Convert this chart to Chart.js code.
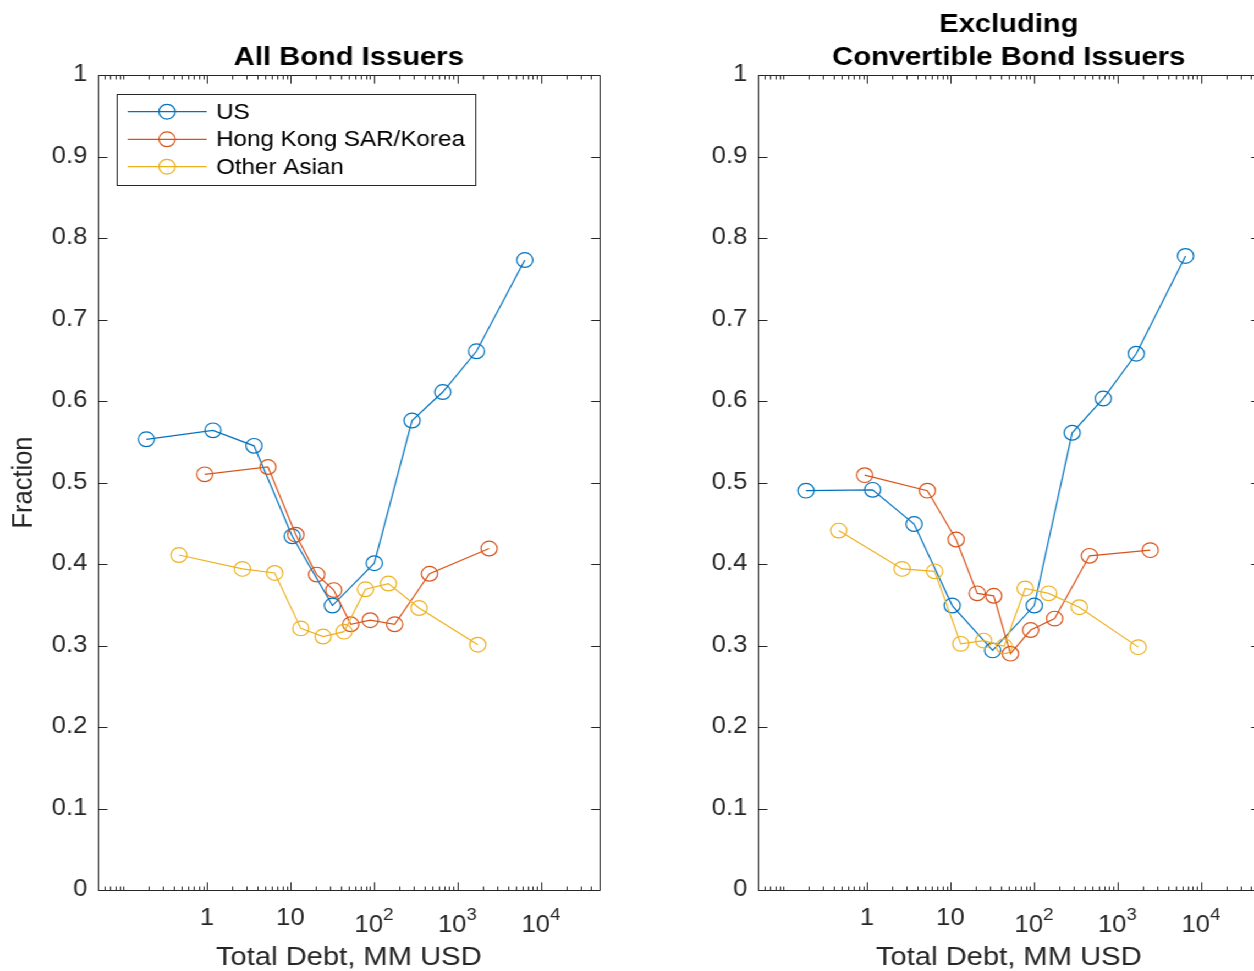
<!DOCTYPE html>
<html>
<head>
<meta charset="utf-8">
<title>Fraction by Total Debt</title>
<script src="https://cdn.jsdelivr.net/npm/chart.js@4.4.1/dist/chart.umd.min.js"></script>
<style>
  html, body { margin: 0; padding: 0; background: #fff; overflow: hidden; width: 1254px; height: 971px; }
  /* figure is laid out at 1/1.1 width and widened on screen */
  #stage { position: absolute; left: 0; top: 0; width: 1200px; height: 971px; transform: scaleX(1.1); transform-origin: 0 0; }
  #stage canvas { position: absolute; top: 0; }
</style>
</head>
<body>
<div id="stage">
  <canvas id="allIssuers" width="600" height="971" style="left:0"></canvas>
  <canvas id="exConvertible" width="600" height="971" style="left:600px"></canvas>
</div>
<script>
// ---- series: all bond issuers ----
const allUsX = [0.188, 1.18, 3.66, 10.5, 31.8, 101, 286, 667, 1690, 6410];
const allUsY = [0.553, 0.564, 0.545, 0.434, 0.349, 0.401, 0.576, 0.611, 0.661, 0.773];
const allHkX = [0.94, 5.38, 11.6, 20.6, 33.0, 52.7, 90.3, 177, 463, 2395];
const allHkY = [0.510, 0.519, 0.436, 0.387, 0.368, 0.326, 0.331, 0.326, 0.388, 0.419];
const allOaX = [0.462, 2.66, 6.48, 13.3, 24.6, 43.8, 79.1, 149, 347, 1754];
const allOaY = [0.411, 0.394, 0.389, 0.321, 0.311, 0.317, 0.369, 0.376, 0.346, 0.301];

// ---- series: excluding convertible bond issuers ----
const exUsX = [0.186, 1.17, 3.67, 10.5, 32.0, 101, 287, 676, 1680, 6540];
const exUsY = [0.490, 0.491, 0.449, 0.349, 0.294, 0.349, 0.561, 0.603, 0.658, 0.778];
const exHkX = [0.939, 5.29, 11.7, 20.9, 33.0, 52.3, 91.4, 177, 462, 2470];
const exHkY = [0.509, 0.490, 0.430, 0.364, 0.361, 0.290, 0.319, 0.333, 0.410, 0.417];
const exOaX = [0.459, 2.64, 6.47, 13.3, 25.0, 44.0, 78.5, 150, 349, 1774];
const exOaY = [0.441, 0.394, 0.391, 0.302, 0.306, 0.299, 0.370, 0.364, 0.347, 0.298];

// ---- labels and ticks ----
const seriesNames = ['US', 'Hong Kong SAR/Korea', 'Other Asian'];
const seriesColors = ['#0072BD', '#D95319', '#EDB120'];
const leftTitle = ['All Bond Issuers'];
const rightTitle = ['Excluding', 'Convertible Bond Issuers'];
const xTitle = 'Total Debt, MM USD';
const yTitle = 'Fraction';
const xTickValues = [1, 10, 100, 1000, 10000];
const xTickBase = ['1', '10', '10', '10', '10'];
const xTickExp = ['', '', '2', '3', '4'];
const yTickLabels = ['0', '0.1', '0.2', '0.3', '0.4', '0.5', '0.6', '0.7', '0.8', '0.9', '1'];
const X_MIN = 0.05, X_MAX = 50000;

const FONT = "'Liberation Sans', Arial, Helvetica, sans-serif";
const INK = '#262626';
const MAJOR = 8.15, MINOR = 4;
const TICK_FONT = 23.3, EXP_FONT = 17;

Chart.defaults.font.family = FONT;
Chart.defaults.color = INK;

function series(i, xs, ys) {
  const c = seriesColors[i];
  return {
    label: seriesNames[i],
    data: xs.map((x, k) => ({ x: x, y: ys[k] })),
    borderColor: c,
    backgroundColor: 'rgba(0,0,0,0)',
    borderWidth: 1.2,
    pointStyle: 'circle',
    pointRadius: 7.35,
    pointHoverRadius: 7.35,
    pointBorderWidth: 1.2,
    pointBorderColor: c,
    pointBackgroundColor: 'rgba(0,0,0,0)',
    tension: 0,
    fill: false,
    order: 3 - i
  };
}

// box, inward tick marks, decade labels with exponents, title and legend
const framePlugin = {
  id: 'frame',
  afterDraw(chart, args, opts) {
    const { ctx, chartArea: a, scales } = chart;
    const xs = scales.x, ys = scales.y;
    const L = Math.round(a.left) + 0.5, R = Math.round(a.right) + 0.5;
    const T = Math.round(a.top) + 0.5, B = Math.round(a.bottom) + 0.5;
    ctx.save();
    ctx.strokeStyle = INK;
    ctx.lineWidth = 1;
    ctx.beginPath();
    ctx.rect(L, T, R - L, B - T);
    // y ticks on both sides
    ys.ticks.forEach(t => {
      const py = Math.round(ys.getPixelForValue(t.value)) + 0.5;
      ctx.moveTo(L, py); ctx.lineTo(L + MAJOR, py);
      ctx.moveTo(R, py); ctx.lineTo(R - MAJOR, py);
    });
    // x decade ticks
    xTickValues.forEach(v => {
      const px = Math.round(xs.getPixelForValue(v)) + 0.5;
      ctx.moveTo(px, B); ctx.lineTo(px, B - MAJOR);
      ctx.moveTo(px, T); ctx.lineTo(px, T + MAJOR);
    });
    // x minor ticks between decades
    for (let e = -2; e <= 4; e++) {
      for (let k = 1; k <= 9; k++) {
        const v = k * Math.pow(10, e);
        if (v <= X_MIN * 1.0001 || v >= X_MAX * 0.9999) continue;
        if (xTickValues.some(m => Math.abs(m - v) < 1e-9 * m)) continue;
        const px = Math.round(xs.getPixelForValue(v)) + 0.5;
        ctx.moveTo(px, B); ctx.lineTo(px, B - MINOR);
        ctx.moveTo(px, T); ctx.lineTo(px, T + MINOR);
      }
    }
    ctx.stroke();

    // x tick labels
    ctx.fillStyle = INK;
    ctx.textBaseline = 'alphabetic';
    xTickValues.forEach((v, i) => {
      const px = xs.getPixelForValue(v);
      if (!xTickExp[i]) {
        ctx.font = TICK_FONT + 'px ' + FONT;
        ctx.textAlign = 'center';
        ctx.fillText(xTickBase[i], px, 924.5);
      } else {
        ctx.font = TICK_FONT + 'px ' + FONT;
        const wb = ctx.measureText(xTickBase[i]).width;
        ctx.font = EXP_FONT + 'px ' + FONT;
        const we = ctx.measureText(xTickExp[i]).width;
        const x0 = px - (wb + we) / 2;
        ctx.textAlign = 'left';
        ctx.font = TICK_FONT + 'px ' + FONT;
        ctx.fillText(xTickBase[i], x0, 931.7);
        ctx.font = EXP_FONT + 'px ' + FONT;
        ctx.fillText(xTickExp[i], x0 + wb, 920);
      }
    });

    // title
    ctx.fillStyle = '#000';
    ctx.font = 'bold 26.5px ' + FONT;
    ctx.textAlign = 'center';
    const cx = (a.left + a.right) / 2;
    const lines = opts.title || [];
    lines.forEach((s, i) => {
      ctx.fillText(s, cx, 65 - (lines.length - 1 - i) * 33);
    });

    // legend
    if (opts.legend) {
      const bx = 106.3, by = 93.5, bw = 325.5, bh = 90.5;
      ctx.fillStyle = '#fff';
      ctx.fillRect(bx, by, bw, bh);
      ctx.strokeStyle = INK;
      ctx.lineWidth = 1;
      ctx.strokeRect(Math.round(bx) + 0.5, Math.round(by) + 0.5, Math.round(bw), Math.round(bh));
      const rows = [111.7, 139.3, 166.7];
      chart.data.datasets.forEach((ds, i) => {
        const ry = rows[i];
        ctx.strokeStyle = ds.borderColor;
        ctx.lineWidth = 1.2;
        ctx.beginPath();
        ctx.moveTo(116.1, ry); ctx.lineTo(187.9, ry);
        ctx.stroke();
        ctx.beginPath();
        ctx.arc(151.8, ry, 7.35, 0, Math.PI * 2);
        ctx.stroke();
        ctx.fillStyle = '#000';
        ctx.font = '22px ' + FONT;
        ctx.textAlign = 'left';
        ctx.textBaseline = 'middle';
        ctx.fillText(ds.label, 196.4, ry + 1);
        ctx.textBaseline = 'alphabetic';
      });
    }
    ctx.restore();
  }
};

function buildChart(id, data, titleLines, withLegend, withYTitle) {
  return new Chart(document.getElementById(id), {
    type: 'line',
    data: { datasets: data },
    plugins: [framePlugin],
    options: {
      responsive: false,
      maintainAspectRatio: false,
      animation: false,
      devicePixelRatio: 1,
      layout: { padding: { top: 75, right: 55.2, bottom: 0, left: 0 } },
      events: [],
      plugins: {
        legend: { display: false },
        tooltip: { enabled: false },
        title: { display: false },
        frame: { title: titleLines, legend: withLegend }
      },
      scales: {
        x: {
          type: 'logarithmic',
          min: X_MIN,
          max: X_MAX,
          grid: { display: false, drawTicks: false },
          border: { display: false },
          ticks: { display: false },
          title: { display: true, text: xTitle, color: INK, font: { size: 26.5, lineHeight: 1 }, padding: { top: 0, bottom: 0 } },
          afterFit: s => { s.height = 81; }
        },
        y: {
          type: 'linear',
          min: 0,
          max: 1,
          grid: { display: false, drawTicks: false },
          border: { display: false },
          ticks: { stepSize: 0.1, color: INK, font: { size: TICK_FONT }, padding: 10, callback: (v, i) => yTickLabels[i] },
          title: { display: withYTitle, text: yTitle, color: INK, font: { size: 25.5, lineHeight: 1 }, padding: { top: 9.25, bottom: 0 } },
          afterFit: s => { s.width = 89.36; }
        }
      }
    }
  });
}

buildChart('allIssuers', [
  series(0, allUsX, allUsY),
  series(1, allHkX, allHkY),
  series(2, allOaX, allOaY)
], leftTitle, true, true);

buildChart('exConvertible', [
  series(0, exUsX, exUsY),
  series(1, exHkX, exHkY),
  series(2, exOaX, exOaY)
], rightTitle, false, false);
</script>
</body>
</html>
